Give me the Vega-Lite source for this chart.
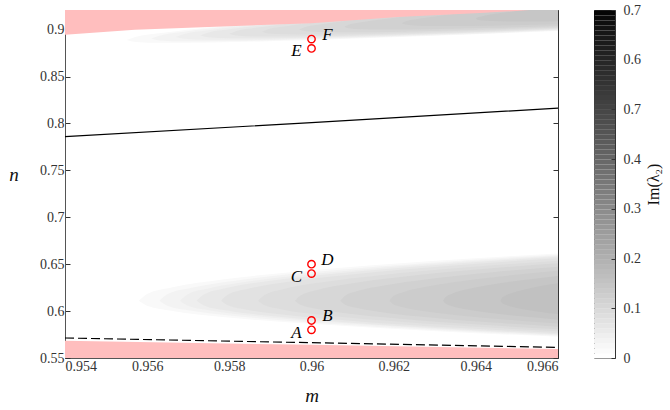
{
  "$schema": "https://vega.github.io/schema/vega-lite/v6.json",
  "padding": {"left": 8, "top": 2, "right": 4, "bottom": 4},
  "background": "white",
  "spacing": 32,
  "config": {
    "view": {"stroke": "#333", "strokeWidth": 1},
    "font": "Liberation Serif",
    "axis": {"grid": false, "labelFont": "Liberation Serif", "labelFontSize": 14, "labelColor": "#333", "tickColor": "#333", "tickSize": -5, "domainColor": "#555", "titleFont": "Liberation Serif", "titleFontStyle": "italic", "titleFontWeight": "normal", "titleFontSize": 19, "titleColor": "#111"}
  },
  "datasets": {
    "bands": [
      {"g": "L01", "v": 0.014, "m": 0.9558, "top": 0.611, "bot": 0.611},
      {"g": "L01", "v": 0.014, "m": 0.956, "top": 0.6181, "bot": 0.6056},
      {"g": "L01", "v": 0.014, "m": 0.95662, "top": 0.6253, "bot": 0.6001},
      {"g": "L01", "v": 0.014, "m": 0.95784, "top": 0.6336, "bot": 0.5938},
      {"g": "L01", "v": 0.014, "m": 0.95988, "top": 0.6429, "bot": 0.5867},
      {"g": "L01", "v": 0.014, "m": 0.96294, "top": 0.6533, "bot": 0.5789},
      {"g": "L01", "v": 0.014, "m": 0.966, "top": 0.6615, "bot": 0.5726},
      {"g": "L02", "v": 0.028, "m": 0.9563, "top": 0.611, "bot": 0.611},
      {"g": "L02", "v": 0.028, "m": 0.95649, "top": 0.6179, "bot": 0.6057},
      {"g": "L02", "v": 0.028, "m": 0.95708, "top": 0.6249, "bot": 0.6004},
      {"g": "L02", "v": 0.028, "m": 0.95824, "top": 0.633, "bot": 0.5943},
      {"g": "L02", "v": 0.028, "m": 0.96018, "top": 0.6421, "bot": 0.5874},
      {"g": "L02", "v": 0.028, "m": 0.96309, "top": 0.6522, "bot": 0.5797},
      {"g": "L02", "v": 0.028, "m": 0.966, "top": 0.6602, "bot": 0.5736},
      {"g": "L03", "v": 0.042, "m": 0.9568, "top": 0.611, "bot": 0.611},
      {"g": "L03", "v": 0.042, "m": 0.95698, "top": 0.6178, "bot": 0.6059},
      {"g": "L03", "v": 0.042, "m": 0.95754, "top": 0.6246, "bot": 0.6007},
      {"g": "L03", "v": 0.042, "m": 0.95864, "top": 0.6325, "bot": 0.5947},
      {"g": "L03", "v": 0.042, "m": 0.96048, "top": 0.6413, "bot": 0.588},
      {"g": "L03", "v": 0.042, "m": 0.96324, "top": 0.6512, "bot": 0.5805},
      {"g": "L03", "v": 0.042, "m": 0.966, "top": 0.659, "bot": 0.5746},
      {"g": "L04", "v": 0.056, "m": 0.9572, "top": 0.611, "bot": 0.611},
      {"g": "L04", "v": 0.056, "m": 0.95738, "top": 0.6176, "bot": 0.606},
      {"g": "L04", "v": 0.056, "m": 0.9579, "top": 0.6243, "bot": 0.6009},
      {"g": "L04", "v": 0.056, "m": 0.95896, "top": 0.632, "bot": 0.5951},
      {"g": "L04", "v": 0.056, "m": 0.96072, "top": 0.6406, "bot": 0.5885},
      {"g": "L04", "v": 0.056, "m": 0.96336, "top": 0.6503, "bot": 0.5812},
      {"g": "L04", "v": 0.056, "m": 0.966, "top": 0.6579, "bot": 0.5754},
      {"g": "L05", "v": 0.07, "m": 0.9578, "top": 0.611, "bot": 0.611},
      {"g": "L05", "v": 0.07, "m": 0.95796, "top": 0.6174, "bot": 0.6062},
      {"g": "L05", "v": 0.07, "m": 0.95846, "top": 0.6238, "bot": 0.6013},
      {"g": "L05", "v": 0.07, "m": 0.95944, "top": 0.6313, "bot": 0.5956},
      {"g": "L05", "v": 0.07, "m": 0.96108, "top": 0.6396, "bot": 0.5893},
      {"g": "L05", "v": 0.07, "m": 0.96354, "top": 0.6489, "bot": 0.5822},
      {"g": "L05", "v": 0.07, "m": 0.966, "top": 0.6563, "bot": 0.5766},
      {"g": "L06", "v": 0.084, "m": 0.9587, "top": 0.611, "bot": 0.611},
      {"g": "L06", "v": 0.084, "m": 0.95885, "top": 0.617, "bot": 0.6064},
      {"g": "L06", "v": 0.084, "m": 0.95928, "top": 0.6231, "bot": 0.6018},
      {"g": "L06", "v": 0.084, "m": 0.96016, "top": 0.6301, "bot": 0.5965},
      {"g": "L06", "v": 0.084, "m": 0.96162, "top": 0.638, "bot": 0.5905},
      {"g": "L06", "v": 0.084, "m": 0.96381, "top": 0.6467, "bot": 0.5838},
      {"g": "L06", "v": 0.084, "m": 0.966, "top": 0.6537, "bot": 0.5785},
      {"g": "L07", "v": 0.098, "m": 0.9596, "top": 0.611, "bot": 0.611},
      {"g": "L07", "v": 0.098, "m": 0.95973, "top": 0.6166, "bot": 0.6067},
      {"g": "L07", "v": 0.098, "m": 0.96011, "top": 0.6223, "bot": 0.6024},
      {"g": "L07", "v": 0.098, "m": 0.96088, "top": 0.6289, "bot": 0.5974},
      {"g": "L07", "v": 0.098, "m": 0.96216, "top": 0.6363, "bot": 0.5918},
      {"g": "L07", "v": 0.098, "m": 0.96408, "top": 0.6445, "bot": 0.5856},
      {"g": "L07", "v": 0.098, "m": 0.966, "top": 0.651, "bot": 0.5806},
      {"g": "L08", "v": 0.112, "m": 0.9607, "top": 0.611, "bot": 0.611},
      {"g": "L08", "v": 0.112, "m": 0.96081, "top": 0.6161, "bot": 0.6071},
      {"g": "L08", "v": 0.112, "m": 0.96112, "top": 0.6213, "bot": 0.6032},
      {"g": "L08", "v": 0.112, "m": 0.96176, "top": 0.6273, "bot": 0.5986},
      {"g": "L08", "v": 0.112, "m": 0.96282, "top": 0.634, "bot": 0.5935},
      {"g": "L08", "v": 0.112, "m": 0.96441, "top": 0.6415, "bot": 0.5878},
      {"g": "L08", "v": 0.112, "m": 0.966, "top": 0.6474, "bot": 0.5833},
      {"g": "L09", "v": 0.126, "m": 0.9619, "top": 0.611, "bot": 0.611},
      {"g": "L09", "v": 0.126, "m": 0.96198, "top": 0.6155, "bot": 0.6076},
      {"g": "L09", "v": 0.126, "m": 0.96223, "top": 0.6201, "bot": 0.6041},
      {"g": "L09", "v": 0.126, "m": 0.96272, "top": 0.6253, "bot": 0.6001},
      {"g": "L09", "v": 0.126, "m": 0.96354, "top": 0.6312, "bot": 0.5956},
      {"g": "L09", "v": 0.126, "m": 0.96477, "top": 0.6378, "bot": 0.5907},
      {"g": "L09", "v": 0.126, "m": 0.966, "top": 0.643, "bot": 0.5867},
      {"g": "L10", "v": 0.14, "m": 0.9632, "top": 0.611, "bot": 0.611},
      {"g": "L10", "v": 0.14, "m": 0.96326, "top": 0.6147, "bot": 0.6082},
      {"g": "L10", "v": 0.14, "m": 0.96342, "top": 0.6185, "bot": 0.6053},
      {"g": "L10", "v": 0.14, "m": 0.96376, "top": 0.6229, "bot": 0.602},
      {"g": "L10", "v": 0.14, "m": 0.96432, "top": 0.6278, "bot": 0.5983},
      {"g": "L10", "v": 0.14, "m": 0.96516, "top": 0.6332, "bot": 0.5942},
      {"g": "L10", "v": 0.14, "m": 0.966, "top": 0.6375, "bot": 0.5909},
      {"g": "L11", "v": 0.154, "m": 0.9646, "top": 0.611, "bot": 0.611},
      {"g": "L11", "v": 0.154, "m": 0.96463, "top": 0.6136, "bot": 0.609},
      {"g": "L11", "v": 0.154, "m": 0.96471, "top": 0.6163, "bot": 0.607},
      {"g": "L11", "v": 0.154, "m": 0.96488, "top": 0.6194, "bot": 0.6047},
      {"g": "L11", "v": 0.154, "m": 0.96516, "top": 0.6228, "bot": 0.602},
      {"g": "L11", "v": 0.154, "m": 0.96558, "top": 0.6267, "bot": 0.5991},
      {"g": "L11", "v": 0.154, "m": 0.966, "top": 0.6297, "bot": 0.5968},
      {"g": "U01", "v": 0.014, "m": 0.9555, "top": 0.889, "bot": 0.889},
      {"g": "U01", "v": 0.014, "m": 0.95571, "top": 0.8922, "bot": 0.887},
      {"g": "U01", "v": 0.014, "m": 0.95634, "top": 0.8964, "bot": 0.886},
      {"g": "U01", "v": 0.014, "m": 0.9576, "top": 0.9029, "bot": 0.8864},
      {"g": "U01", "v": 0.014, "m": 0.9597, "top": 0.9119, "bot": 0.8885},
      {"g": "U01", "v": 0.014, "m": 0.96285, "top": 0.924, "bot": 0.8932},
      {"g": "U01", "v": 0.014, "m": 0.966, "top": 0.9355, "bot": 0.8986},
      {"g": "U02", "v": 0.028, "m": 0.9561, "top": 0.8906, "bot": 0.8906},
      {"g": "U02", "v": 0.028, "m": 0.9563, "top": 0.8936, "bot": 0.8886},
      {"g": "U02", "v": 0.028, "m": 0.95689, "top": 0.8978, "bot": 0.8876},
      {"g": "U02", "v": 0.028, "m": 0.95808, "top": 0.9039, "bot": 0.8879},
      {"g": "U02", "v": 0.028, "m": 0.96006, "top": 0.9125, "bot": 0.8899},
      {"g": "U02", "v": 0.028, "m": 0.96303, "top": 0.9241, "bot": 0.8941},
      {"g": "U02", "v": 0.028, "m": 0.966, "top": 0.9349, "bot": 0.8991},
      {"g": "U03", "v": 0.042, "m": 0.9567, "top": 0.8922, "bot": 0.8922},
      {"g": "U03", "v": 0.042, "m": 0.95689, "top": 0.8952, "bot": 0.8903},
      {"g": "U03", "v": 0.042, "m": 0.95744, "top": 0.8991, "bot": 0.8893},
      {"g": "U03", "v": 0.042, "m": 0.95856, "top": 0.905, "bot": 0.8894},
      {"g": "U03", "v": 0.042, "m": 0.96042, "top": 0.9131, "bot": 0.8911},
      {"g": "U03", "v": 0.042, "m": 0.96321, "top": 0.9241, "bot": 0.8951},
      {"g": "U03", "v": 0.042, "m": 0.966, "top": 0.9344, "bot": 0.8996},
      {"g": "U04", "v": 0.056, "m": 0.9573, "top": 0.8938, "bot": 0.8938},
      {"g": "U04", "v": 0.056, "m": 0.95747, "top": 0.8967, "bot": 0.8919},
      {"g": "U04", "v": 0.056, "m": 0.958, "top": 0.9004, "bot": 0.8909},
      {"g": "U04", "v": 0.056, "m": 0.95904, "top": 0.906, "bot": 0.891},
      {"g": "U04", "v": 0.056, "m": 0.96078, "top": 0.9137, "bot": 0.8925},
      {"g": "U04", "v": 0.056, "m": 0.96339, "top": 0.9241, "bot": 0.896},
      {"g": "U04", "v": 0.056, "m": 0.966, "top": 0.9338, "bot": 0.9002},
      {"g": "U05", "v": 0.07, "m": 0.958, "top": 0.8957, "bot": 0.8957},
      {"g": "U05", "v": 0.07, "m": 0.95816, "top": 0.8984, "bot": 0.8938},
      {"g": "U05", "v": 0.07, "m": 0.95864, "top": 0.902, "bot": 0.8928},
      {"g": "U05", "v": 0.07, "m": 0.9596, "top": 0.9071, "bot": 0.8927},
      {"g": "U05", "v": 0.07, "m": 0.9612, "top": 0.9144, "bot": 0.894},
      {"g": "U05", "v": 0.07, "m": 0.9636, "top": 0.9241, "bot": 0.8971},
      {"g": "U05", "v": 0.07, "m": 0.966, "top": 0.9331, "bot": 0.9009},
      {"g": "U06", "v": 0.084, "m": 0.9588, "top": 0.8978, "bot": 0.8978},
      {"g": "U06", "v": 0.084, "m": 0.95894, "top": 0.9004, "bot": 0.896},
      {"g": "U06", "v": 0.084, "m": 0.95938, "top": 0.9037, "bot": 0.8951},
      {"g": "U06", "v": 0.084, "m": 0.96024, "top": 0.9085, "bot": 0.8949},
      {"g": "U06", "v": 0.084, "m": 0.96168, "top": 0.9152, "bot": 0.8958},
      {"g": "U06", "v": 0.084, "m": 0.96384, "top": 0.9241, "bot": 0.8985},
      {"g": "U06", "v": 0.084, "m": 0.966, "top": 0.9323, "bot": 0.9017},
      {"g": "U07", "v": 0.098, "m": 0.9597, "top": 0.9002, "bot": 0.9002},
      {"g": "U07", "v": 0.098, "m": 0.95983, "top": 0.9026, "bot": 0.8986},
      {"g": "U07", "v": 0.098, "m": 0.9602, "top": 0.9056, "bot": 0.8976},
      {"g": "U07", "v": 0.098, "m": 0.96096, "top": 0.91, "bot": 0.8972},
      {"g": "U07", "v": 0.098, "m": 0.96222, "top": 0.9159, "bot": 0.8979},
      {"g": "U07", "v": 0.098, "m": 0.96411, "top": 0.924, "bot": 0.9},
      {"g": "U07", "v": 0.098, "m": 0.966, "top": 0.9313, "bot": 0.9027},
      {"g": "U08", "v": 0.112, "m": 0.9608, "top": 0.9032, "bot": 0.9032},
      {"g": "U08", "v": 0.112, "m": 0.9609, "top": 0.9052, "bot": 0.9016},
      {"g": "U08", "v": 0.112, "m": 0.96122, "top": 0.908, "bot": 0.9006},
      {"g": "U08", "v": 0.112, "m": 0.96184, "top": 0.9117, "bot": 0.9001},
      {"g": "U08", "v": 0.112, "m": 0.96288, "top": 0.9169, "bot": 0.9005},
      {"g": "U08", "v": 0.112, "m": 0.96444, "top": 0.9238, "bot": 0.902},
      {"g": "U08", "v": 0.112, "m": 0.966, "top": 0.93, "bot": 0.904},
      {"g": "U09", "v": 0.126, "m": 0.9622, "top": 0.9069, "bot": 0.9069},
      {"g": "U09", "v": 0.126, "m": 0.96228, "top": 0.9087, "bot": 0.9055},
      {"g": "U09", "v": 0.126, "m": 0.9625, "top": 0.9108, "bot": 0.9046},
      {"g": "U09", "v": 0.126, "m": 0.96296, "top": 0.9139, "bot": 0.9039},
      {"g": "U09", "v": 0.126, "m": 0.96372, "top": 0.918, "bot": 0.904},
      {"g": "U09", "v": 0.126, "m": 0.96486, "top": 0.9233, "bot": 0.9047},
      {"g": "U09", "v": 0.126, "m": 0.966, "top": 0.9281, "bot": 0.9059},
      {"g": "U10", "v": 0.14, "m": 0.964, "top": 0.9117, "bot": 0.9117},
      {"g": "U10", "v": 0.14, "m": 0.96404, "top": 0.9129, "bot": 0.9107},
      {"g": "U10", "v": 0.14, "m": 0.96416, "top": 0.9144, "bot": 0.9098},
      {"g": "U10", "v": 0.14, "m": 0.9644, "top": 0.9164, "bot": 0.9092},
      {"g": "U10", "v": 0.14, "m": 0.9648, "top": 0.9189, "bot": 0.9087},
      {"g": "U10", "v": 0.14, "m": 0.9654, "top": 0.9221, "bot": 0.9087},
      {"g": "U10", "v": 0.14, "m": 0.966, "top": 0.9251, "bot": 0.909}
    ],
    "pinkTop": [
      {"m": 0.954, "n": 0.8945},
      {"m": 0.9557, "n": 0.9},
      {"m": 0.96, "n": 0.907},
      {"m": 0.9621, "n": 0.9135},
      {"m": 0.9641, "n": 0.9178},
      {"m": 0.965, "n": 0.92},
      {"m": 0.9653, "n": 0.921}
    ],
    "pinkBottom": [
      {"m": 0.954, "n": 0.5685},
      {"m": 0.96, "n": 0.564},
      {"m": 0.966, "n": 0.5596}
    ],
    "lines": [
      {"kind": "solid", "m": 0.954, "n": 0.786},
      {"kind": "solid", "m": 0.96, "n": 0.801},
      {"kind": "solid", "m": 0.966, "n": 0.8164},
      {"kind": "dashed", "m": 0.954, "n": 0.5713},
      {"kind": "dashed", "m": 0.96, "n": 0.5663},
      {"kind": "dashed", "m": 0.966, "n": 0.5613}
    ],
    "pts": [
      {"label": "A", "m": 0.96, "n": 0.58},
      {"label": "B", "m": 0.96, "n": 0.59},
      {"label": "C", "m": 0.96, "n": 0.64},
      {"label": "D", "m": 0.96, "n": 0.65},
      {"label": "E", "m": 0.96, "n": 0.88},
      {"label": "F", "m": 0.96, "n": 0.89}
    ],
    "colorbar": [
      {"v": 0.00}, {"v": 0.01}, {"v": 0.02}, {"v": 0.03}, {"v": 0.04}, {"v": 0.05}, {"v": 0.06}, {"v": 0.07}, {"v": 0.08}, {"v": 0.09},
      {"v": 0.10}, {"v": 0.11}, {"v": 0.12}, {"v": 0.13}, {"v": 0.14}, {"v": 0.15}, {"v": 0.16}, {"v": 0.17}, {"v": 0.18}, {"v": 0.19},
      {"v": 0.20}, {"v": 0.21}, {"v": 0.22}, {"v": 0.23}, {"v": 0.24}, {"v": 0.25}, {"v": 0.26}, {"v": 0.27}, {"v": 0.28}, {"v": 0.29},
      {"v": 0.30}, {"v": 0.31}, {"v": 0.32}, {"v": 0.33}, {"v": 0.34}, {"v": 0.35}, {"v": 0.36}, {"v": 0.37}, {"v": 0.38}, {"v": 0.39},
      {"v": 0.40}, {"v": 0.41}, {"v": 0.42}, {"v": 0.43}, {"v": 0.44}, {"v": 0.45}, {"v": 0.46}, {"v": 0.47}, {"v": 0.48}, {"v": 0.49},
      {"v": 0.50}, {"v": 0.51}, {"v": 0.52}, {"v": 0.53}, {"v": 0.54}, {"v": 0.55}, {"v": 0.56}, {"v": 0.57}, {"v": 0.58}, {"v": 0.59},
      {"v": 0.60}, {"v": 0.61}, {"v": 0.62}, {"v": 0.63}, {"v": 0.64}, {"v": 0.65}, {"v": 0.66}, {"v": 0.67}, {"v": 0.68}, {"v": 0.69}
    ]
  },
  "hconcat": [
    {
      "width": 493,
      "height": 348,
      "layer": [
        {
          "data": {"name": "pinkBottom"},
          "mark": {"type": "area", "color": "#ffbebe", "opacity": 1, "clip": true},
          "encoding": {
            "x": {"field": "m", "type": "quantitative", "scale": {"domain": [0.954, 0.966], "nice": false, "zero": false},
                  "axis": {"orient": "bottom", "values": [0.954, 0.956, 0.958, 0.96, 0.962, 0.964, 0.966], "format": "~g", "title": "m", "labelPadding": 6, "titlePadding": 13}},
            "y": {"field": "n", "type": "quantitative", "scale": {"domain": [0.55, 0.921], "nice": false, "zero": false},
                  "axis": {"orient": "left", "values": [0.55, 0.6, 0.65, 0.7, 0.75, 0.8, 0.85, 0.9], "format": "~g", "title": "n", "titleAngle": 0, "labelPadding": 6, "titlePadding": 26}},
            "y2": {"datum": 0.55}
          }
        },
        {
          "data": {"name": "bands"},
          "mark": {"type": "area", "opacity": 1, "interpolate": "monotone", "clip": true},
          "encoding": {
            "x": {"field": "m", "type": "quantitative", "axis": null},
            "y": {"field": "top", "type": "quantitative", "axis": null},
            "y2": {"field": "bot"},
            "detail": {"field": "g", "type": "nominal"},
            "color": {"field": "v", "type": "quantitative", "scale": {"domain": [0, 0.7], "range": ["#ffffff", "#000000"]}, "legend": null}
          }
        },
        {
          "data": {"name": "pinkTop"},
          "mark": {"type": "area", "color": "#ffbebe", "opacity": 1, "clip": true},
          "encoding": {
            "x": {"field": "m", "type": "quantitative", "axis": null},
            "y": {"field": "n", "type": "quantitative", "axis": null},
            "y2": {"datum": 0.921}
          }
        },
        {
          "data": {"name": "lines"},
          "transform": [{"filter": "datum.kind == 'solid'"}],
          "mark": {"type": "line", "color": "#000", "strokeWidth": 1.2},
          "encoding": {
            "x": {"field": "m", "type": "quantitative", "axis": {"orient": "top", "values": [0.954, 0.956, 0.958, 0.96, 0.962, 0.964, 0.966], "labels": false, "title": null, "domain": false}},
            "y": {"field": "n", "type": "quantitative", "axis": {"orient": "right", "values": [0.55, 0.6, 0.65, 0.7, 0.75, 0.8, 0.85, 0.9], "labels": false, "title": null, "domain": false}}
          }
        },
        {
          "data": {"name": "lines"},
          "transform": [{"filter": "datum.kind == 'dashed'"}],
          "mark": {"type": "line", "color": "#000", "strokeWidth": 1.2, "strokeDash": [9, 4]},
          "encoding": {
            "x": {"field": "m", "type": "quantitative", "axis": null},
            "y": {"field": "n", "type": "quantitative", "axis": null}
          }
        },
        {
          "data": {"name": "pts"},
          "mark": {"type": "point", "shape": "circle", "filled": false, "color": "#ff0000", "size": 55, "strokeWidth": 1.4, "opacity": 1},
          "encoding": {
            "x": {"field": "m", "type": "quantitative", "axis": null},
            "y": {"field": "n", "type": "quantitative", "axis": null}
          }
        },
        {
          "data": {"name": "pts"},
          "transform": [{"filter": "indexof(['A','C','E'], datum.label) >= 0"}],
          "mark": {"type": "text", "font": "Liberation Serif", "fontStyle": "italic", "fontSize": 17, "color": "#000", "align": "center", "baseline": "middle", "dx": -15, "dy": 3},
          "encoding": {
            "x": {"field": "m", "type": "quantitative", "axis": null},
            "y": {"field": "n", "type": "quantitative", "axis": null},
            "text": {"field": "label"}
          }
        },
        {
          "data": {"name": "pts"},
          "transform": [{"filter": "indexof(['B','D','F'], datum.label) >= 0"}],
          "mark": {"type": "text", "font": "Liberation Serif", "fontStyle": "italic", "fontSize": 17, "color": "#000", "align": "center", "baseline": "middle", "dx": 16, "dy": -4},
          "encoding": {
            "x": {"field": "m", "type": "quantitative", "axis": null},
            "y": {"field": "n", "type": "quantitative", "axis": null},
            "text": {"field": "label"}
          }
        }
      ],
      "resolve": {"axis": {"x": "independent", "y": "independent"}}
    },
    {
      "width": 21,
      "height": 348,
      "data": {"name": "colorbar"},
      "mark": {"type": "rect", "strokeWidth": 0},
      "encoding": {
        "x": {"datum": 0, "type": "quantitative", "scale": {"domain": [0, 1], "nice": false, "zero": false}, "axis": null},
        "x2": {"datum": 1},
        "y": {"field": "v", "type": "quantitative", "bin": {"binned": true, "step": 0.01},
              "scale": {"domain": [0, 0.7], "nice": false, "zero": false},
              "axis": {"orient": "right", "values": [0, 0.1, 0.2, 0.3, 0.4, 0.5, 0.6, 0.7], "format": "~g", "labelExpr": "datum.value == 0.5 ? '0.7' : datum.label", "labelOverlap": false, "tickSize": -4, "labelPadding": 12, "domain": false, "title": "Im(λ₂)", "titleAngle": 270, "titleBaseline": "top", "titleFontStyle": "normal", "titleFontSize": 16, "titlePadding": 5}},
        "color": {"field": "v", "type": "quantitative", "scale": {"domain": [0, 0.7], "range": ["#ffffff", "#000000"]}, "legend": null}
      }
    }
  ]
}
